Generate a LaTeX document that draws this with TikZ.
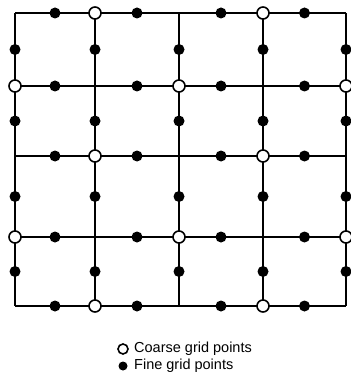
\documentclass[tikz,border=0pt]{standalone}
\usepackage{fontspec}
\setmainfont{Liberation Sans}
\usetikzlibrary{calc}
\begin{document}
\begin{tikzpicture}[x=1pt,y=-1pt,
  gridline/.style={line width=1.7pt,line cap=square},
  fine/.style={circle,fill=black,inner sep=0pt,minimum size=11pt},
  coarse/.style={circle,draw=black,fill=white,line width=1.6pt,inner sep=0pt,minimum size=12pt},
  legtext/.style={anchor=west,inner sep=0pt,font=\fontsize{14.5}{16}\selectfont}]
\useasboundingbox (0,0) rectangle (350,390);
\foreach \x [count=\i from 0] in {15,95,179,263,346}
  \foreach \y [count=\j from 0] in {13,86,156,237,306}
    \coordinate (g-\i-\j) at (\x,\y);
% grid lines
\foreach \j in {0,...,4} \draw[gridline] (g-0-\j) -- (g-4-\j);
\foreach \i in {0,...,4} \draw[gridline] (g-\i-0) -- (g-\i-4);
% fine points at edge midpoints
\foreach \i/\k in {0/1,1/2,2/3,3/4}
  \foreach \j in {0,...,4}
    \node[fine] (fh-\i-\j) at ($(g-\i-\j)!0.5!(g-\k-\j)$) {};
\foreach \i in {0,...,4}
  \foreach \j/\k in {0/1,1/2,2/3,3/4}
    \node[fine] (fv-\i-\j) at ($(g-\i-\j)!0.5!(g-\i-\k)$) {};
% coarse points
\foreach \i in {0,...,4}
  \foreach \j in {0,...,4} {
    \pgfmathtruncatemacro\myparity{mod(\i+\j,2)}
    \ifnum\myparity=1 \node[coarse] (c-\i-\j) at (g-\i-\j) {}; \fi
  }
% legend
\node[coarse,minimum size=10pt] (lc) at (123,349) {};
\node[legtext] (lct) at (134,349) {Coarse grid points};
\node[fine,minimum size=9pt] (lf) at (123,366) {};
\node[legtext] (lft) at (134,366) {Fine grid points};
\end{tikzpicture}
\end{document}
